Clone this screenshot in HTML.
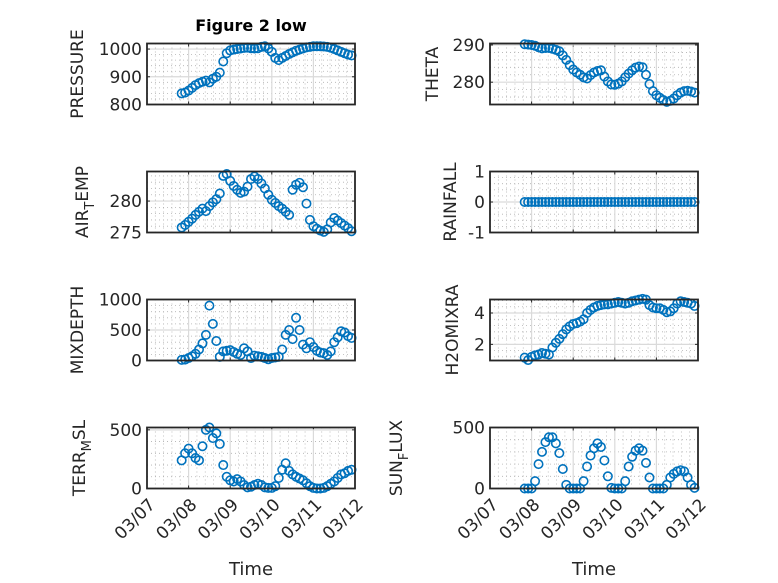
<!DOCTYPE html>
<html><head><meta charset="utf-8"><style>
html,body{margin:0;padding:0;background:#fff;}
svg{display:block;font-family:"DejaVu Sans","Liberation Sans",sans-serif;}
</style></head><body>
<svg id="fig" width="778" height="583" viewBox="0 0 778 583" xmlns="http://www.w3.org/2000/svg">
<rect width="778" height="583" fill="#fff"/>
<text x="251" y="31" text-anchor="middle" font-size="16" font-weight="bold" fill="#000">Figure 2 low</text>
</svg>
<script>
// time in hours since 03/07 00:00
const timeHours = [20,22,24,26,28,30,32,34,36,38,40,42,44,46,48,50,52,54,56,58,60,62,64,66,68,70,72,74,76,78,80,82,84,86,88,90,92,94,96,98,100,102,104,106,108,110,112,114,116,118];
const xTickLabels = ["03/07","03/08","03/09","03/10","03/11","03/12"];
const pressure = [840,843,850,860,870,877,882,886,880,893,900,915,955,985,995,998,1000,1002,1004,1005,1003,1002,1003,1008,1010,1002,990,968,960,968,975,982,988,994,998,1002,1006,1008,1010,1010,1010,1009,1008,1005,1000,995,990,985,980,977];
const airTemp = [275.8,276.2,276.7,277.2,277.8,278.3,278.8,278.4,279.2,279.8,280.3,281.2,284.0,284.3,283.2,282.4,281.8,281.3,281.5,282.3,283.5,283.9,283.5,282.8,282.0,281.0,280.2,279.7,279.2,278.8,278.3,277.8,281.8,282.6,282.9,282.2,279.6,277.0,276.0,275.6,275.3,275.1,275.5,276.6,277.3,276.9,276.5,276.1,275.7,275.2];
const theta = [290.2,290.1,290.0,289.8,289.4,289.1,289.2,289.2,289.0,288.7,288.3,287.2,286.0,284.6,283.4,282.6,282.0,281.3,281.0,281.9,282.6,283.0,283.2,281.5,280.2,279.4,279.3,279.6,280.2,281.3,282.3,283.2,283.9,284.2,284.0,282.0,279.5,277.6,276.5,275.8,275.2,274.7,275.0,275.6,276.5,277.2,277.6,277.7,277.5,277.2];
const rainfall = [0,0,0,0,0,0,0,0,0,0,0,0,0,0,0,0,0,0,0,0,0,0,0,0,0,0,0,0,0,0,0,0,0,0,0,0,0,0,0,0,0,0,0,0,0,0,0,0,0,0];
const mixDepth = [10,15,40,70,110,180,280,420,900,600,320,60,150,160,170,140,110,90,200,150,40,80,70,60,40,20,40,50,60,180,420,500,350,700,500,260,200,300,220,160,130,120,90,150,300,380,480,460,400,370];
const h2oMix = [1.15,1.0,1.2,1.3,1.35,1.45,1.4,1.35,1.8,2.1,2.35,2.65,2.95,3.15,3.3,3.35,3.45,3.6,4.0,4.2,4.35,4.45,4.5,4.55,4.55,4.6,4.65,4.7,4.65,4.6,4.65,4.75,4.8,4.85,4.9,4.85,4.5,4.35,4.3,4.3,4.2,4.05,4.1,4.3,4.6,4.75,4.7,4.65,4.6,4.45];
const terrMsl = [240,300,340,300,260,240,360,500,520,430,470,380,200,100,70,60,80,60,30,10,15,30,40,30,10,5,5,20,90,160,215,150,120,100,85,70,45,20,5,0,0,5,20,40,60,90,120,130,150,160];
const sunFlux = [0,0,0,60,200,300,380,420,420,370,290,160,30,0,0,0,0,60,180,270,330,370,340,230,100,5,0,0,0,60,180,260,310,330,310,210,90,0,0,0,0,30,90,120,140,150,140,90,30,5];
const pressureTicks = [800,900,1000];
const airTempTicks = [275,280];
const thetaTicks = [280,290];
const rainTicks = [-1,0,1];
const mixTicks = [0,500,1000];
const h2oTicks = [2,4];
const terrTicks = [0,500];
const sunTicks = [0,500];

const NS = "http://www.w3.org/2000/svg";
const svg = document.getElementById('fig');
function mk(tag, attrs, parent){
  const e = document.createElementNS(NS, tag);
  for (const k in attrs) e.setAttribute(k, attrs[k]);
  (parent||svg).appendChild(e);
  return e;
}
const panels = [
  {name:'pressure', vals:pressure, ticks:pressureTicks, ymin:800, ymax:1020, minor:20, col:0, row:0, label:['PRESSURE'], lx:77},
  {name:'theta', vals:theta, ticks:thetaTicks, ymin:274, ymax:290.4, minor:2, col:1, row:0, label:['THETA'], lx:432},
  {name:'air-temp', vals:airTemp, ticks:airTempTicks, ymin:275, ymax:284.7, minor:1, col:0, row:1, label:['AIR','T','EMP'], lx:82},
  {name:'rainfall', vals:rainfall, ticks:rainTicks, ymin:-1, ymax:1, minor:0.2, col:1, row:1, label:['RAINFALL'], lx:450},
  {name:'mix-depth', vals:mixDepth, ticks:mixTicks, ymin:0, ymax:1000, minor:100, col:0, row:2, label:['MIXDEPTH'], lx:77},
  {name:'h2o-mix', vals:h2oMix, ticks:h2oTicks, ymin:0.97, ymax:4.86, minor:0.4, col:1, row:2, label:['H2OMIXRA'], lx:452},
  {name:'terr-msl', vals:terrMsl, ticks:terrTicks, ymin:0, ymax:520, minor:100, col:0, row:3, label:['TERR','M','SL'], lx:79},
  {name:'sun-flux', vals:sunFlux, ticks:sunTicks, ymin:0, ymax:500, minor:100, col:1, row:3, label:['SUN','F','LUX'], lx:396}
];
const colX = [147, 490], W = 208, rowY = [43.5, 171.5, 299.5, 427.5], H = 61;
panels.forEach(p => {
  const x0 = colX[p.col], y0 = rowY[p.row], x1 = x0 + W, y1 = y0 + H;
  const xs = d => x0 + (d / 5) * W;
  const ys = v => y1 - (v - p.ymin) / (p.ymax - p.ymin) * H;
  const g = mk('g', {});
  
  
  for (let i = 0; i <= 25; i++) {
    if (i % 5 === 0) continue;
    const x = xs(i / 5);
    mk('line', {x1:x, x2:x, y1:y0, y2:y1, stroke:'#b0b0b0', 'stroke-width':0.8, 'stroke-dasharray':'1 3'}, g);
  }
  const m0 = Math.ceil(p.ymin / p.minor - 1e-6);
  for (let k = m0; k * p.minor <= p.ymax + 1e-9; k++) {
    const v = k * p.minor;
    if (p.ticks.some(t => Math.abs(t - v) < 1e-6)) continue;
    const y = ys(v);
    mk('line', {x1:x0, x2:x1, y1:y, y2:y, stroke:'#b0b0b0', 'stroke-width':0.8, 'stroke-dasharray':'1 3'}, g);
  }
  for (let i = 1; i < 5; i++) {
    const x = xs(i);
    mk('line', {x1:x, x2:x, y1:y0, y2:y1, stroke:'#dadada', 'stroke-width':1.2}, g);
    mk('line', {x1:x, x2:x, y1:y1, y2:y1-3, stroke:'#262626', 'stroke-width':1}, g);
    mk('line', {x1:x, x2:x, y1:y0, y2:y0+3, stroke:'#262626', 'stroke-width':1}, g);
  }
  p.ticks.forEach(t => {
    const y = ys(t);
    mk('line', {x1:x0, x2:x1, y1:y, y2:y, stroke:'#dadada', 'stroke-width':1.2}, g);
    mk('line', {x1:x0, x2:x0+3, y1:y, y2:y, stroke:'#262626', 'stroke-width':1}, g);
    mk('line', {x1:x1, x2:x1-3, y1:y, y2:y, stroke:'#262626', 'stroke-width':1}, g);
    const tl = mk('text', {x:x0-5, y:y+6, 'text-anchor':'end', 'font-size':17, fill:'#262626'}, g);
    
    
    tl.textContent = String(t);
  });
  const pts = mk('g', {}, g);
  
  
  p.vals.forEach((v, i) => {
    const c = mk('circle', {cx:xs(timeHours[i] / 24), cy:ys(v), r:4.2, fill:'none', stroke:'#0072BD', 'stroke-width':1.6}, pts);
    
    
  });
  const box = mk('rect', {x:x0, y:y0, width:W, height:H, fill:'none', stroke:'#262626', 'stroke-width':1.8}, g);
  
  
  const yl = mk('text', {transform:`translate(${p.lx},${y0 + H/2}) rotate(-90)`, 'text-anchor':'middle', 'font-size':17, fill:'#262626', dy:'0.35em'}, g);
  
  
  if (p.label.length === 1) yl.textContent = p.label[0];
  else {
    const a = mk('tspan', {}, yl); a.textContent = p.label[0];
    const b = mk('tspan', {dy:6, 'font-size':13}, yl); b.textContent = p.label[1];
    const c = mk('tspan', {dy:-6}, yl); c.textContent = p.label[2];
  }
  if (p.row === 3) {
    xTickLabels.forEach((lab, i) => {
      const x = xs(i);
      const t = mk('text', {transform:`translate(${x+5},${y1+13}) rotate(-45)`, 'text-anchor':'end', 'font-size':17, fill:'#262626', dy:'0.35em'}, g);
      
      
      t.textContent = lab;
    });
    const xl = mk('text', {x:x0 + W/2, y:575, 'text-anchor':'middle', 'font-size':18, fill:'#262626'}, g);
    
    
    xl.textContent = 'Time';
  }
});
</script>
</body></html>
